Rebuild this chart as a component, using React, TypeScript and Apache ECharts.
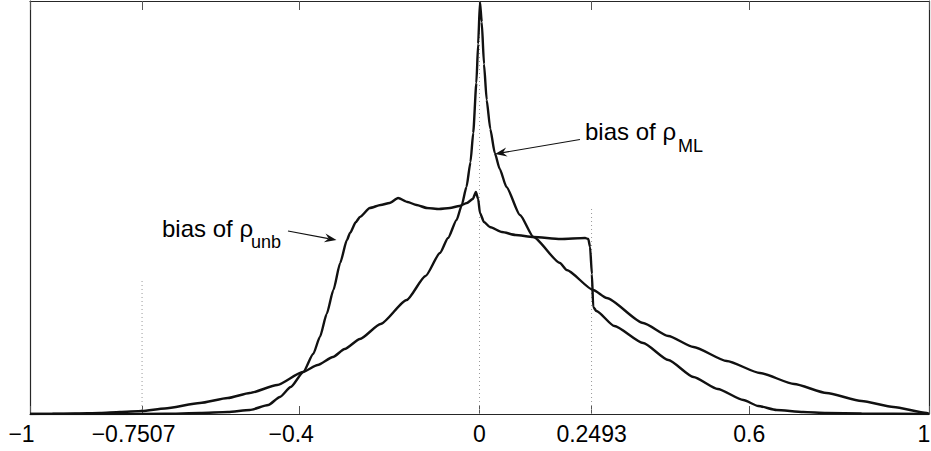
import React, { useEffect, useRef } from "react";
import * as echarts from "echarts";

// ---- data ----
const xTicks = [-1, -0.7507, -0.4, 0, 0.2493, 0.6, 1];
const xTickLabels = ["−1", "−0.7507", "−0.4", "0", "0.2493", "0.6", "1"];

const mlX = [
  -1, -0.95, -0.9, -0.844, -0.8, -0.751, -0.7, -0.622, -0.56, -0.511, -0.45, -0.393, -0.36,
  -0.326, -0.3, -0.266, -0.22, -0.162, -0.12, -0.088, -0.07, -0.051, -0.04, -0.029, -0.02,
  -0.014, -0.007, -0.003, 0.001, 0.005, 0.01, 0.016, 0.024, 0.034, 0.045, 0.06, 0.09, 0.12,
  0.179, 0.194, 0.253, 0.283, 0.364, 0.42, 0.476, 0.55, 0.624, 0.7, 0.772, 0.85, 0.921, 0.995, 1,
];
const mlY = [
  0, 0.2, 0.5, 1, 2, 3, 5.5, 11, 16, 21, 29, 42, 49,
  57, 65, 75, 90, 114, 138, 161, 176, 194, 208, 227, 252,
  281, 331, 370, 412, 392, 350, 314, 285, 261, 245, 227, 199, 177,
  151, 144, 124, 116, 91, 78, 67, 53, 41, 30, 21, 13, 7, 1, 0,
];

const unbX = [
  -1, -0.8, -0.7, -0.622, -0.56, -0.511, -0.47, -0.444, -0.42, -0.392, -0.37, -0.355, -0.34,
  -0.325, -0.31, -0.295, -0.288, -0.275, -0.266, -0.244, -0.22, -0.2, -0.181, -0.16, -0.14,
  -0.117, -0.09, -0.066, -0.045, -0.028, -0.015, -0.008, -0.003, 0.001, 0.01, 0.023, 0.05,
  0.08, 0.12, 0.18, 0.235, 0.242, 0.246, 0.25, 0.253, 0.26, 0.3, 0.364, 0.42, 0.476, 0.53,
  0.587, 0.62, 0.661, 0.72, 0.772, 0.85, 1,
];
const unbY = [
  0, 0, 0.3, 1, 2, 4, 9, 17, 27, 42, 60, 77, 100,
  124, 151, 174, 181, 192, 197, 206, 209, 211, 216, 212, 209,
  206, 205, 206, 208, 211, 215, 222, 215, 201, 192, 187, 182,
  179, 177, 175, 176, 175, 167, 140, 107, 103, 88, 71, 54, 37, 25,
  14, 8, 4, 2, 1, 0.5, 0,
];

const markerX = [-0.7507, 0, 0.2493];
const markerTop = [136, 413, 207];

const yMax = 413;

function arrowHead(x1: number, y1: number, x2: number, y2: number) {
  const dx = x2 - x1;
  const dy = y2 - y1;
  const len = Math.hypot(dx, dy);
  const ux = dx / len;
  const uy = dy / len;
  const px = -uy;
  const py = ux;
  const L = 12;
  const W = 4.5;
  const bx = x2 - L * ux;
  const by = y2 - L * uy;
  return [
    [x2, y2],
    [bx + W * px, by + W * py],
    [x2 - 8 * ux, y2 - 8 * uy],
    [bx - W * px, by - W * py],
  ];
}

export default function App() {
  const ref = useRef<HTMLDivElement>(null);
  useEffect(() => {
    if (!ref.current) return;
    const chart = echarts.init(ref.current, undefined, { renderer: "svg" });
    const font = '"Liberation Sans", Arial, Helvetica, sans-serif';
    const boxColor = "#262626";
    const tickStyle = { color: "#555", width: 1 };

    const labelFormatter = (v: number) => {
      let idx = 0;
      let best = Infinity;
      xTicks.forEach((t, i) => {
        const d = Math.abs(t - v);
        if (d < best) {
          best = d;
          idx = i;
        }
      });
      const s = xTickLabels[idx];
      if (s.startsWith("−")) return `{n|${s}}`;
      if (idx === xTicks.length - 1) return `{e|${s}}`;
      return `{p|${s}}`;
    };

    const markerSeries = markerX.map((x, i) => ({
      type: "line",
      data: [
        [x, 0],
        [x, markerTop[i]],
      ],
      symbol: "none",
      silent: true,
      z: 1,
      lineStyle: { color: "#999", width: 1, type: [1, 3] },
    }));

    const ml1 = [580, 139.5, 495, 154];
    const un1 = [288, 231, 336.5, 240];

    chart.setOption({
      animation: false,
      backgroundColor: "#fff",
      grid: { left: 30, right: 2, top: 1, bottom: 37, containLabel: false, outerBoundsMode: "none" },
      xAxis: [
        {
          type: "value",
          min: -1,
          max: 1,
          position: "bottom",
          axisLine: { show: true, onZero: false, lineStyle: { color: boxColor, width: 1.2 } },
          axisTick: { show: true, inside: true, length: 8, customValues: xTicks, lineStyle: tickStyle },
          axisLabel: {
            show: true,
            customValues: xTicks,
            formatter: labelFormatter,
            margin: 8,
            color: "#000",
            fontFamily: font,
            fontSize: 23,
            hideOverlap: false,
            rich: {
              n: { fontFamily: font, fontSize: 23, color: "#000", padding: [0, 17, 0, 0] },
              p: { fontFamily: font, fontSize: 23, color: "#000" },
              e: { fontFamily: font, fontSize: 23, color: "#000", padding: [0, 10, 0, 0] },
            },
          },
          splitLine: { show: false },
        },
        {
          type: "value",
          min: -1,
          max: 1,
          position: "top",
          axisLine: { show: true, onZero: false, lineStyle: { color: boxColor, width: 1.2 } },
          axisTick: { show: true, inside: true, length: 9, customValues: xTicks, lineStyle: tickStyle },
          axisLabel: { show: false },
          splitLine: { show: false },
        },
      ],
      yAxis: [
        {
          type: "value",
          min: 0,
          max: yMax,
          position: "left",
          axisLine: { show: true, onZero: false, lineStyle: { color: boxColor, width: 1.2 } },
          axisTick: { show: false },
          axisLabel: { show: false },
          splitLine: { show: false },
        },
        {
          type: "value",
          min: 0,
          max: yMax,
          position: "right",
          axisLine: { show: true, onZero: false, lineStyle: { color: boxColor, width: 1.2 } },
          axisTick: { show: false },
          axisLabel: { show: false },
          splitLine: { show: false },
        },
      ],
      series: [
        ...markerSeries,
        {
          name: "bias of ρML",
          type: "line",
          data: mlX.map((x, i) => [x, mlY[i]]),
          symbol: "none",
          smooth: 0.2,
          smoothMonotone: "x",
          z: 3,
          lineStyle: { color: "#111", width: 2.4 },
        },
        {
          name: "bias of ρunb",
          type: "line",
          data: unbX.map((x, i) => [x, unbY[i]]),
          symbol: "none",
          smooth: 0.2,
          smoothMonotone: "x",
          z: 3,
          lineStyle: { color: "#111", width: 2.4 },
        },
      ],
      graphic: [
        {
          type: "text",
          x: 585,
          y: 131,
          style: { text: "bias of ρ", font: `24px ${font}`, fill: "#000", align: "left", verticalAlign: "middle", textAlign: "left", textVerticalAlign: "middle" },
        },
        {
          type: "text",
          x: 678,
          y: 146,
          style: { text: "ML", font: `18px ${font}`, fill: "#000", align: "left", verticalAlign: "middle", textAlign: "left", textVerticalAlign: "middle" },
        },
        {
          type: "line",
          shape: { x1: ml1[0], y1: ml1[1], x2: ml1[2] + 8, y2: ml1[3] - 1.4 },
          style: { stroke: "#111", lineWidth: 1.2 },
        },
        {
          type: "polygon",
          shape: { points: arrowHead(ml1[0], ml1[1], ml1[2], ml1[3]) },
          style: { fill: "#111" },
        },
        {
          type: "text",
          x: 162,
          y: 228,
          style: { text: "bias of ρ", font: `24px ${font}`, fill: "#000", align: "left", verticalAlign: "middle", textAlign: "left", textVerticalAlign: "middle" },
        },
        {
          type: "text",
          x: 251,
          y: 242,
          style: { text: "unb", font: `18px ${font}`, fill: "#000", align: "left", verticalAlign: "middle", textAlign: "left", textVerticalAlign: "middle" },
        },
        {
          type: "line",
          shape: { x1: un1[0], y1: un1[1], x2: un1[2] - 8, y2: un1[3] - 1.4 },
          style: { stroke: "#111", lineWidth: 1.2 },
        },
        {
          type: "polygon",
          shape: { points: arrowHead(un1[0], un1[1], un1[2], un1[3]) },
          style: { fill: "#111" },
        },
      ],
    });
    return () => chart.dispose();
  }, []);
  return (
    <div
      ref={ref}
      style={{ position: "fixed", left: 0, top: 0, width: 931, height: 451, background: "#fff" }}
    />
  );
}
